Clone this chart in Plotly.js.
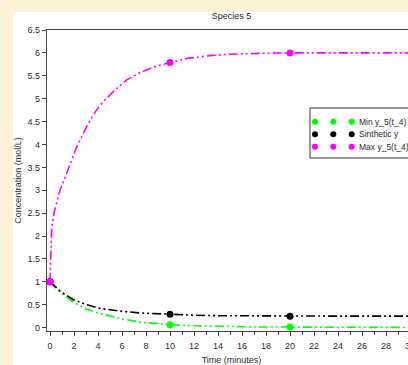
<!DOCTYPE html>
<html>
<head>
<meta charset="utf-8">
<script src="https://cdn.plot.ly/plotly-3.0.1.min.js"></script>
<style>
html,body{margin:0;padding:0;width:408px;height:365px;overflow:hidden;background:#fdf2d6;}
#chart{position:absolute;left:13px;top:12px;width:423px;height:353px;}
</style>
</head>
<body>
<div id="chart"></div>
<script>
// ---- data ----
const tMax = [0,0.04,0.08,0.14,0.33,0.55,0.83,1.17,1.5,1.8,2.2,2.64,3.0,3.33,3.75,4.17,5.14,6.39,7.5,8.75,10,11.5,13.3,15,17.5,20,25,30];
const yMax = [1,1.5,2.0,2.15,2.5,2.75,3.0,3.22,3.45,3.68,3.93,4.17,4.37,4.53,4.7,4.86,5.12,5.41,5.57,5.70,5.79,5.88,5.94,5.97,5.99,6.0,6.0,6.0];
const tLow = [0,0.83,1.94,3.06,4.17,5.83,7.5,8.9,10,12,14,17,20,25,30];
const ySyn = [1,0.80,0.61,0.50,0.42,0.36,0.32,0.30,0.29,0.27,0.26,0.255,0.25,0.25,0.25];
const yMin = [1,0.78,0.56,0.40,0.31,0.20,0.12,0.09,0.065,0.04,0.025,0.015,0.012,0.005,0.003];
const markT = [0,10,20];
const markMin = [1,0.065,0.012];
const markSyn = [1,0.29,0.25];
const markMax = [1,5.79,6.0];
const names = ['Min y_5(t_4)','Sinthetic y','Max y_5(t_4)'];
const colors = ['#00ff00','#000000','#ff00ff'];
const xTicks = [0,2,4,6,8,10,12,14,16,18,20,22,24,26,28,30];

// ---- layout geometry (page pixels) ----
const divL = 13, divT = 12, mL = 34, mT = 18, plotW = 369, plotH = 301, divW = 423, divH = 353;
const px = p => (p - divL - mL) / plotW;
const py = p => 1 - (p - divT - mT) / plotH;

const dash = '9px,3px,2px,3px,2px,3px';
const font = 'Liberation Sans, Arial, sans-serif';
const txt = '#2a2a2a';

const series = [[tLow,yMin,markMin],[tLow,ySyn,markSyn],[tMax,yMax,markMax]];
const traces = [];
series.forEach((s,i)=>{
  traces.push({x:s[0], y:s[1], mode:'lines', line:{color:colors[i], width:1.6, dash:dash}, showlegend:false, hoverinfo:'skip'});
});
series.forEach((s,i)=>{
  traces.push({x:markT, y:s[2], mode:'markers', marker:{color:colors[i], size:7, symbol:'circle'}, name:names[i], showlegend:false});
});

// legend drawn as shapes + annotations
const shapes = [{type:'rect', xref:'paper', yref:'paper', x0:px(310), x1:px(440), y0:py(158), y1:py(108), line:{color:'#333', width:1}, fillcolor:'#ffffff', layer:'above'}];
const annotations = [];
const rowsY = [121.7, 134.2, 146.7];
const dotX = [315, 333.3, 351.7];
rowsY.forEach((ry,i)=>{
  dotX.forEach(dx=>{
    shapes.push({type:'circle', xref:'paper', yref:'paper', xsizemode:'pixel', ysizemode:'pixel', xanchor:px(dx), yanchor:py(ry), x0:-3, x1:3, y0:-3, y1:3, fillcolor:colors[i], line:{width:0}, layer:'above'});
  });
  annotations.push({xref:'paper', yref:'paper', x:px(357), y:py(ry), xanchor:'left', yanchor:'middle', showarrow:false, text:names[i], font:{family:font, size:8.5, color:txt}});
});

const layout = {
  width: divW, height: divH,
  margin:{l:mL, t:mT, r:divW-mL-plotW, b:divH-mT-plotH, pad:0},
  paper_bgcolor:'#ffffff', plot_bgcolor:'#ffffff',
  showlegend:false,
  title:{text:'Species 5', x:0.5, xref:'paper', xanchor:'center', yref:'container', y:1-3.8/divH, yanchor:'middle', font:{family:font, size:9, color:txt}},
  xaxis:{range:[-0.25,30.5], tickvals:xTicks, ticktext:xTicks.map(String), ticks:'outside', ticklen:4, tickwidth:1, tickcolor:'#444',
         ticklabelstandoff:2,
         minor:{dtick:1, tick0:0, ticks:'outside', ticklen:2.5, tickcolor:'#444', showgrid:false},
         showline:true, linecolor:'#444', linewidth:1.2, mirror:true, showgrid:false, zeroline:false,
         tickfont:{family:font, size:9, color:txt},
         title:{text:'Time (minutes)', font:{family:font, size:9, color:txt}, standoff:16}},
  yaxis:{range:[-0.074,6.5], dtick:0.5, tick0:0, ticks:'outside', ticklen:4, tickwidth:1, tickcolor:'#444',
         showline:true, linecolor:'#444', linewidth:1.2, mirror:true, showgrid:false, zeroline:false,
         tickfont:{family:font, size:9, color:txt},
         title:{text:'Concentration (mol/L)', font:{family:font, size:9, color:txt}, standoff:6}},
  shapes: shapes,
  annotations: annotations
};

Plotly.newPlot('chart', traces, layout, {staticPlot:true, displayModeBar:false});
</script>
</body>
</html>
